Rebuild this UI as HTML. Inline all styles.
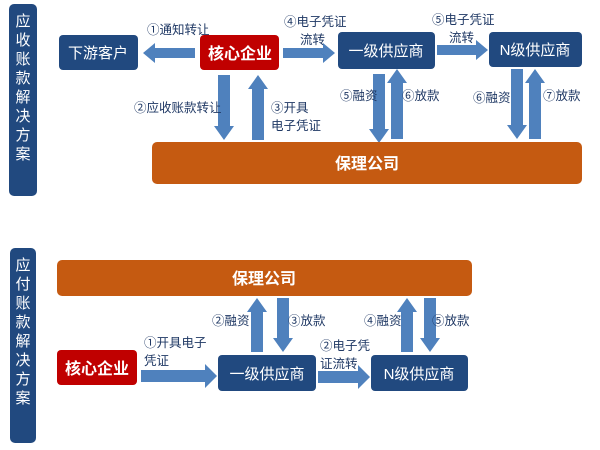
<!DOCTYPE html>
<html><head><meta charset="utf-8"><style>
body{margin:0;background:#fff}
svg{display:block}
text{font-family:"Liberation Sans","Noto Sans CJK SC",sans-serif}
.l{font-size:12.5px;fill:#1f3864}
.w{fill:#fff;font-size:15px}
.b{fill:#fff;font-size:16px;font-weight:bold}
.s{fill:#fff;font-size:15px}
</style></head><body>
<svg width="600" height="450" viewBox="0 0 600 450">
<rect x="9" y="4" width="28" height="192" rx="5" fill="#21497f"/>
<rect x="10" y="248" width="26" height="195" rx="5" fill="#21497f"/>
<g class="s" text-anchor="middle">
<text x="23" y="26">应</text><text x="23" y="45">收</text><text x="23" y="64">账</text><text x="23" y="83">款</text><text x="23" y="102">解</text><text x="23" y="121">决</text><text x="23" y="140">方</text><text x="23" y="159">案</text>
<text x="23" y="270">应</text><text x="23" y="289">付</text><text x="23" y="308">账</text><text x="23" y="327">款</text><text x="23" y="346">解</text><text x="23" y="365">决</text><text x="23" y="384">方</text><text x="23" y="403">案</text>
</g>
<g fill="#4f81bd">
<polygon points="143,53 155,43 155,48 195,48 195,58 155,58 155,63"/>
<polygon points="283,48 323,48 323,43 335,53 323,63 323,58 283,58"/>
<polygon points="437,45 476,45 476,40 488,50 476,60 476,55 437,55"/>
<polygon points="218,75 230,75 230,126 234,126 224,140 214,126 218,126"/>
<polygon points="258,75 268,89 264,89 264,140 252,140 252,89 248,89"/>
<polygon points="373,74 385,74 385,129 389,129 379,143 369,129 373,129"/>
<polygon points="397,69 407,83 403,83 403,139 391,139 391,83 387,83"/>
<polygon points="511,69 523,69 523,125 527,125 517,139 507,125 511,125"/>
<polygon points="535,69 545,83 541,83 541,139 529,139 529,83 525,83"/>
<polygon points="141,370 205,370 205,364 217,376 205,388 205,382 141,382"/>
<polygon points="318,371 358,371 358,365 370,377 358,389 358,383 318,383"/>
<polygon points="257,298 267,312 263,312 263,352 251,352 251,312 247,312"/>
<polygon points="277,298 289,298 289,338 293,338 283,352 273,338 277,338"/>
<polygon points="407,298 417,312 413,312 413,352 401,352 401,312 397,312"/>
<polygon points="424,298 436,298 436,338 440,338 430,352 420,338 424,338"/>
</g>
<rect x="59" y="35" width="79" height="35" rx="4" fill="#21497f"/>
<rect x="200" y="35" width="79" height="35" rx="4" fill="#c00000"/>
<rect x="338" y="32" width="97" height="37" rx="4" fill="#21497f"/>
<rect x="489" y="32" width="93" height="35" rx="4" fill="#21497f"/>
<rect x="152" y="142" width="430" height="42" rx="5" fill="#c55a11"/>
<rect x="57" y="260" width="415" height="36" rx="5" fill="#c55a11"/>
<rect x="57" y="350" width="80" height="35" rx="4" fill="#c00000"/>
<rect x="218" y="355" width="98" height="36" rx="4" fill="#21497f"/>
<rect x="371" y="355" width="97" height="36" rx="4" fill="#21497f"/>
<g text-anchor="middle">
<text class="w" x="98" y="58">下游客户</text>
<text class="b" x="240" y="59">核心企业</text>
<text class="w" x="386" y="56">一级供应商</text>
<text class="w" x="535" y="55">N级供应商</text>
<text class="b" x="367" y="169">保理公司</text>
<text class="b" x="264" y="284">保理公司</text>
<text class="b" x="97" y="374">核心企业</text>
<text class="w" x="267" y="379">一级供应商</text>
<text class="w" x="419" y="379">N级供应商</text>
</g>
<g class="l">
<text x="147" y="34">①通知转让</text>
<text x="284" y="26">④电子凭证</text><text x="300" y="44">流转</text>
<text x="432" y="24">⑤电子凭证</text><text x="449" y="42">流转</text>
<text x="134" y="112">②应收账款转让</text>
<text x="271" y="112">③开具</text><text x="271" y="130">电子凭证</text>
<text x="340" y="100">⑤融资</text>
<text x="402" y="100">⑥放款</text>
<text x="473" y="102">⑥融资</text>
<text x="543" y="100">⑦放款</text>
<text x="144" y="347">①开具电子</text><text x="144" y="365">凭证</text>
<text x="212" y="325">②融资</text>
<text x="288" y="325">③放款</text>
<text x="320" y="350">②电子凭</text><text x="320" y="368">证流转</text>
<text x="364" y="325">④融资</text>
<text x="432" y="325">⑤放款</text>
</g>
</svg>
</body></html>
